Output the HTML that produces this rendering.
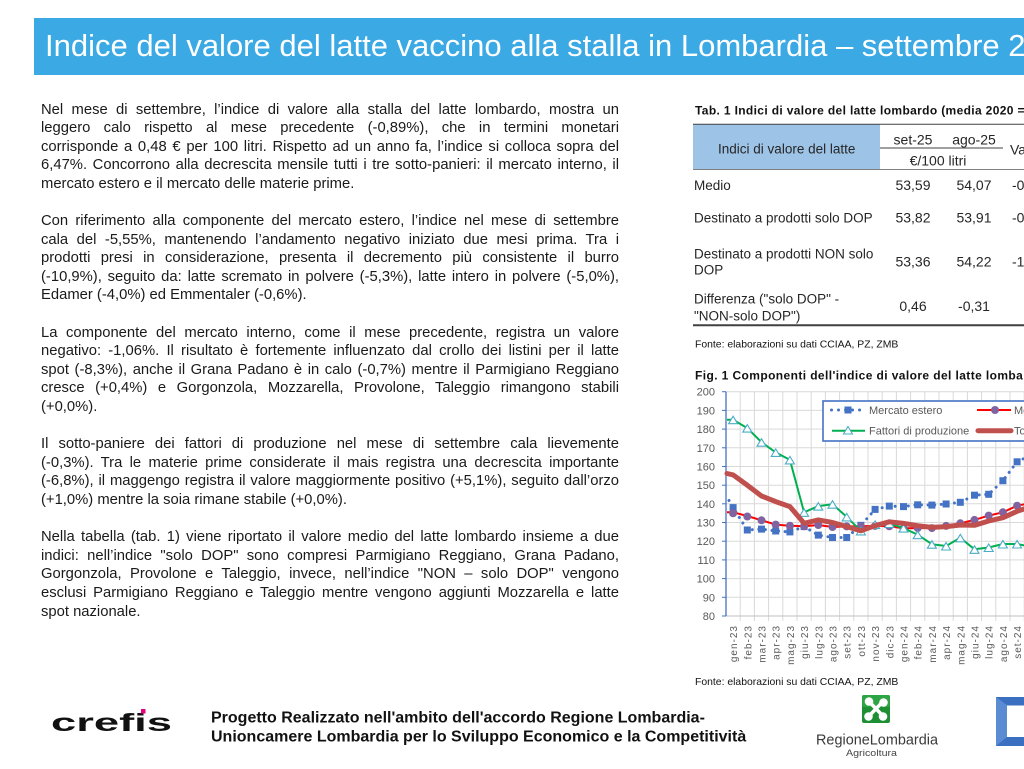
<!DOCTYPE html>
<html><head><meta charset="utf-8">
<style>
html,body{margin:0;padding:0;background:#fff;}
body{width:1024px;height:769px;overflow:hidden;position:relative;}
#txt{position:absolute;left:41px;top:100.5px;width:578px;font-family:"Liberation Sans",sans-serif;font-size:14.8px;line-height:18.6px;color:#1a1a1a;}
#txt div{height:18.6px;}
.j{text-align:justify;text-align-last:justify;}
.l{text-align:left;}
svg{position:absolute;left:0;top:0;}
</style></head>
<body>
<svg width="1024" height="769" viewBox="0 0 1024 769" xmlns="http://www.w3.org/2000/svg" font-family="Liberation Sans, sans-serif">
<!-- title bar -->
<rect x="34" y="18" width="990" height="57" fill="#3aa9e4"/>
<text x="45" y="56" font-size="31" fill="#ffffff">Indice del valore del latte vaccino alla stalla in Lombardia – settembre 2025</text>

<!-- TABLE -->
<text x="695" y="114.3" font-size="12" font-weight="bold" letter-spacing="0.35" fill="#111">Tab. 1 Indici di valore del latte lombardo (media 2020 = 100)</text>
<rect x="693" y="124.3" width="187" height="45" fill="#9dc3e6"/>
<line x1="693" y1="124.3" x2="1024" y2="124.3" stroke="#404040" stroke-width="1"/>
<line x1="693" y1="169.5" x2="1024" y2="169.5" stroke="#808080" stroke-width="1"/>
<line x1="880" y1="148" x2="1003" y2="148" stroke="#404040" stroke-width="1"/>
<line x1="693" y1="325.3" x2="1024" y2="325.3" stroke="#404040" stroke-width="2"/>
<g font-size="13.5" fill="#262626">
<text x="786.7" y="153.3" text-anchor="middle">Indici di valore del latte</text>
<text x="913" y="144.3" text-anchor="middle" font-size="14">set-25</text>
<text x="974" y="144.3" text-anchor="middle" font-size="14">ago-25</text>
<text x="938" y="165.7" text-anchor="middle" font-size="14">€/100 litri</text>
<text x="1010" y="154.3" font-size="14">Var. %</text>
<text x="694" y="190">Medio</text>
<text x="694" y="222.3">Destinato a prodotti solo DOP</text>
<text x="694" y="258.3">Destinato a prodotti NON solo</text>
<text x="694" y="274.3">DOP</text>
<text x="694" y="303.3">Differenza ("solo DOP" -</text>
<text x="694" y="320.5">"NON-solo DOP")</text>
</g>
<g font-size="14" fill="#262626" text-anchor="middle">
<text x="913" y="190">53,59</text><text x="974" y="190">54,07</text>
<text x="913" y="222.3">53,82</text><text x="974" y="222.3">53,91</text>
<text x="913" y="266.7">53,36</text><text x="974" y="266.7">54,22</text>
<text x="913" y="311">0,46</text><text x="974" y="311">-0,31</text>
</g>
<g font-size="14" fill="#262626">
<text x="1012" y="190">-0,89%</text>
<text x="1012" y="222.3">-0,17%</text>
<text x="1012" y="266.7">-1,59%</text>
</g>
<text x="695" y="347.7" font-size="10.4" fill="#111">Fonte: elaborazioni su dati CCIAA, PZ, ZMB</text>

<!-- CHART -->
<text x="695" y="379.3" font-size="12" font-weight="bold" letter-spacing="0.4" fill="#111">Fig. 1 Componenti dell'indice di valore del latte lombardo</text>
<g stroke="#d9d9d9" stroke-width="1">
<line x1="726" y1="391.7" x2="1024" y2="391.7"/>
<line x1="726" y1="410.4" x2="1024" y2="410.4"/>
<line x1="726" y1="429.1" x2="1024" y2="429.1"/>
<line x1="726" y1="447.8" x2="1024" y2="447.8"/>
<line x1="726" y1="466.5" x2="1024" y2="466.5"/>
<line x1="726" y1="485.2" x2="1024" y2="485.2"/>
<line x1="726" y1="503.8" x2="1024" y2="503.8"/>
<line x1="726" y1="522.5" x2="1024" y2="522.5"/>
<line x1="726" y1="541.2" x2="1024" y2="541.2"/>
<line x1="726" y1="559.9" x2="1024" y2="559.9"/>
<line x1="726" y1="578.6" x2="1024" y2="578.6"/>
<line x1="726" y1="597.3" x2="1024" y2="597.3"/>
<line x1="740.2" y1="391.7" x2="740.2" y2="621"/>
<line x1="754.4" y1="391.7" x2="754.4" y2="621"/>
<line x1="768.6" y1="391.7" x2="768.6" y2="621"/>
<line x1="782.8" y1="391.7" x2="782.8" y2="621"/>
<line x1="797" y1="391.7" x2="797" y2="621"/>
<line x1="811.2" y1="391.7" x2="811.2" y2="621"/>
<line x1="825.4" y1="391.7" x2="825.4" y2="621"/>
<line x1="839.6" y1="391.7" x2="839.6" y2="621"/>
<line x1="853.8" y1="391.7" x2="853.8" y2="621"/>
<line x1="868" y1="391.7" x2="868" y2="621"/>
<line x1="882.2" y1="391.7" x2="882.2" y2="621"/>
<line x1="896.4" y1="391.7" x2="896.4" y2="621"/>
<line x1="910.6" y1="391.7" x2="910.6" y2="621"/>
<line x1="924.8" y1="391.7" x2="924.8" y2="621"/>
<line x1="939" y1="391.7" x2="939" y2="621"/>
<line x1="953.2" y1="391.7" x2="953.2" y2="621"/>
<line x1="967.4" y1="391.7" x2="967.4" y2="621"/>
<line x1="981.6" y1="391.7" x2="981.6" y2="621"/>
<line x1="995.8" y1="391.7" x2="995.8" y2="621"/>
<line x1="1010" y1="391.7" x2="1010" y2="621"/>
<line x1="1024.2" y1="391.7" x2="1024.2" y2="621"/>
</g>
<line x1="726" y1="616" x2="1024" y2="616" stroke="#bfbfbf" stroke-width="1"/>
<line x1="726" y1="391.7" x2="726" y2="616" stroke="#4472c4" stroke-width="1.3"/>
<g stroke="#4472c4" stroke-width="1">
<line x1="722" y1="391.7" x2="726" y2="391.7"/><line x1="722" y1="410.4" x2="726" y2="410.4"/>
<line x1="722" y1="429.1" x2="726" y2="429.1"/><line x1="722" y1="447.8" x2="726" y2="447.8"/>
<line x1="722" y1="466.5" x2="726" y2="466.5"/><line x1="722" y1="485.2" x2="726" y2="485.2"/>
<line x1="722" y1="503.8" x2="726" y2="503.8"/><line x1="722" y1="522.5" x2="726" y2="522.5"/>
<line x1="722" y1="541.2" x2="726" y2="541.2"/><line x1="722" y1="559.9" x2="726" y2="559.9"/>
<line x1="722" y1="578.6" x2="726" y2="578.6"/><line x1="722" y1="597.3" x2="726" y2="597.3"/>
<line x1="722" y1="616" x2="726" y2="616"/>
</g>
<g font-size="11" fill="#595959" text-anchor="end">
<text x="715" y="395.7">200</text><text x="715" y="414.4">190</text><text x="715" y="433.1">180</text>
<text x="715" y="451.8">170</text><text x="715" y="470.5">160</text><text x="715" y="489.2">150</text>
<text x="715" y="507.8">140</text><text x="715" y="526.5">130</text><text x="715" y="545.2">120</text>
<text x="715" y="563.9">110</text><text x="715" y="582.6">100</text><text x="715" y="601.3">90</text>
<text x="715" y="620">80</text>
</g>
<g font-size="10" fill="#595959" text-anchor="end" letter-spacing="1">
<text transform="translate(737.1,625) rotate(-90)">gen-23</text>
<text transform="translate(751.3,625) rotate(-90)">feb-23</text>
<text transform="translate(765.5,625) rotate(-90)">mar-23</text>
<text transform="translate(779.7,625) rotate(-90)">apr-23</text>
<text transform="translate(793.9,625) rotate(-90)">mag-23</text>
<text transform="translate(808.1,625) rotate(-90)">giu-23</text>
<text transform="translate(822.3,625) rotate(-90)">lug-23</text>
<text transform="translate(836.5,625) rotate(-90)">ago-23</text>
<text transform="translate(850.7,625) rotate(-90)">set-23</text>
<text transform="translate(864.9,625) rotate(-90)">ott-23</text>
<text transform="translate(879.1,625) rotate(-90)">nov-23</text>
<text transform="translate(893.3,625) rotate(-90)">dic-23</text>
<text transform="translate(907.5,625) rotate(-90)">gen-24</text>
<text transform="translate(921.7,625) rotate(-90)">feb-24</text>
<text transform="translate(935.9,625) rotate(-90)">mar-24</text>
<text transform="translate(950.1,625) rotate(-90)">apr-24</text>
<text transform="translate(964.3,625) rotate(-90)">mag-24</text>
<text transform="translate(978.5,625) rotate(-90)">giu-24</text>
<text transform="translate(992.7,625) rotate(-90)">lug-24</text>
<text transform="translate(1006.9,625) rotate(-90)">ago-24</text>
<text transform="translate(1021.1,625) rotate(-90)">set-24</text>
</g>

<!-- legend -->
<rect x="823" y="401" width="215" height="40" fill="#fff" stroke="#4472c4" stroke-width="1.6"/>
<line x1="831.5" y1="410" x2="865" y2="410" stroke="#4472c4" stroke-width="3" stroke-dasharray="0.01 7" stroke-linecap="round"/>
<rect x="844.5" y="406.5" width="7" height="7" fill="#4472c4"/>
<text x="869" y="414" font-size="11" fill="#595959">Mercato estero</text>
<line x1="977" y1="410" x2="1011" y2="410" stroke="#ff0000" stroke-width="2"/>
<circle cx="995" cy="410" r="4" fill="#8064a2"/>
<text x="1014" y="414" font-size="11" fill="#595959">Mercato interno</text>
<line x1="832" y1="430.7" x2="865" y2="430.7" stroke="#00b050" stroke-width="2"/>
<polygon points="848,426.5 852.5,434 843.5,434" fill="#fff" stroke="#4bacc6" stroke-width="1.1"/>
<text x="869" y="434.7" font-size="11" fill="#595959">Fattori di produzione</text>
<line x1="978" y1="430.7" x2="1011" y2="430.7" stroke="#c0504d" stroke-width="5" stroke-linecap="round"/>
<text x="1014" y="434.7" font-size="11" fill="#595959">Totale</text>

<!-- series: Mercato estero -->
<polyline fill="none" stroke="#4472c4" stroke-width="3" stroke-dasharray="0.01 6.6" stroke-linecap="round" points="729,500.5 733.1,507.6 747.3,530 761.5,529.1 775.7,531 789.9,531.9 804.1,526.6 818.3,535.1 832.5,537.5 846.7,537.5 860.9,525.3 875.1,509.4 889.3,506.1 903.5,506.6 917.7,504.8 931.9,505.1 946.1,504 960.3,502.3 974.5,495.2 988.7,494.3 1002.9,480.7 1017.1,461.8 1031.3,455"/>
<g fill="#4472c4">
<rect x="729.6" y="504.1" width="7" height="7"/><rect x="743.8" y="526.5" width="7" height="7"/>
<rect x="758" y="525.6" width="7" height="7"/><rect x="772.2" y="527.5" width="7" height="7"/>
<rect x="786.4" y="528.4" width="7" height="7"/><rect x="800.6" y="523.1" width="7" height="7"/>
<rect x="814.8" y="531.6" width="7" height="7"/><rect x="829" y="534" width="7" height="7"/>
<rect x="843.2" y="534" width="7" height="7"/><rect x="857.4" y="521.8" width="7" height="7"/>
<rect x="871.6" y="505.9" width="7" height="7"/><rect x="885.8" y="502.6" width="7" height="7"/>
<rect x="900" y="503.1" width="7" height="7"/><rect x="914.2" y="501.3" width="7" height="7"/>
<rect x="928.4" y="501.6" width="7" height="7"/><rect x="942.6" y="500.5" width="7" height="7"/>
<rect x="956.8" y="498.8" width="7" height="7"/><rect x="971" y="491.7" width="7" height="7"/>
<rect x="985.2" y="490.8" width="7" height="7"/><rect x="999.4" y="477.2" width="7" height="7"/>
<rect x="1013.6" y="458.3" width="7" height="7"/>
</g>

<!-- series: Mercato interno -->
<polyline fill="none" stroke="#ff0000" stroke-width="2" stroke-linejoin="round" points="727,512.3 733.1,512.3 747.3,516 761.5,520.3 775.7,524.6 789.9,525.7 804.1,526.3 818.3,525 832.5,527 846.7,526.4 860.9,526.3 875.1,525.9 889.3,526.3 903.5,528.3 917.7,528.1 931.9,528.1 946.1,525.9 960.3,523.3 974.5,519.9 988.7,515.6 1002.9,512.3 1017.1,505.7 1031.3,502.9"/>
<g fill="#8064a2">
<circle cx="733.1" cy="513.3" r="4"/><circle cx="747.3" cy="516.5" r="4"/><circle cx="761.5" cy="520.3" r="4"/>
<circle cx="775.7" cy="524.6" r="4"/><circle cx="789.9" cy="525.7" r="4"/><circle cx="804.1" cy="526.3" r="4"/>
<circle cx="818.3" cy="525" r="4"/><circle cx="832.5" cy="527" r="4"/><circle cx="846.7" cy="526.4" r="4"/>
<circle cx="860.9" cy="526.3" r="4"/><circle cx="875.1" cy="525.9" r="4"/><circle cx="889.3" cy="526.3" r="4"/>
<circle cx="903.5" cy="528.3" r="4"/><circle cx="917.7" cy="528.1" r="4"/><circle cx="931.9" cy="528.1" r="4"/>
<circle cx="946.1" cy="525.9" r="4"/><circle cx="960.3" cy="523.3" r="4"/><circle cx="974.5" cy="519.9" r="4"/>
<circle cx="988.7" cy="515.6" r="4"/><circle cx="1002.9" cy="512.3" r="4"/><circle cx="1017.1" cy="505.7" r="4"/>
</g>

<!-- series: Fattori di produzione -->
<polyline fill="none" stroke="#00b050" stroke-width="2" stroke-linejoin="round" points="727,419.7 733.1,419.7 747.3,428.1 761.5,442.2 775.7,452.4 789.9,459.9 804.1,512.3 818.3,506.1 832.5,504.2 846.7,516.9 860.9,530.9 875.1,524.4 889.3,523.5 903.5,528.1 917.7,534.7 931.9,544.2 946.1,546 960.3,537.8 974.5,549.3 988.7,547.5 1002.9,544 1017.1,544 1031.3,546.8"/>
<g fill="#fff" stroke="#4bacc6" stroke-width="1.1">
<polygon points="733.1,416.2 737.6,423.7 728.6,423.7"/>
<polygon points="747.3,424.6 751.8,432.1 742.8,432.1"/>
<polygon points="761.5,438.7 766,446.2 757,446.2"/>
<polygon points="775.7,448.9 780.2,456.4 771.2,456.4"/>
<polygon points="789.9,456.4 794.4,463.9 785.4,463.9"/>
<polygon points="804.1,508.8 808.6,516.3 799.6,516.3"/>
<polygon points="818.3,502.6 822.8,510.1 813.8,510.1"/>
<polygon points="832.5,500.7 837,508.2 828,508.2"/>
<polygon points="846.7,513.4 851.2,520.9 842.2,520.9"/>
<polygon points="860.9,527.4 865.4,534.9 856.4,534.9"/>
<polygon points="875.1,520.9 879.6,528.4 870.6,528.4"/>
<polygon points="889.3,520 893.8,527.5 884.8,527.5"/>
<polygon points="903.5,524.6 908,532.1 899,532.1"/>
<polygon points="917.7,531.2 922.2,538.7 913.2,538.7"/>
<polygon points="931.9,540.7 936.4,548.2 927.4,548.2"/>
<polygon points="946.1,542.5 950.6,550 941.6,550"/>
<polygon points="960.3,534.3 964.8,541.8 955.8,541.8"/>
<polygon points="974.5,545.8 979,553.3 970,553.3"/>
<polygon points="988.7,544 993.2,551.5 984.2,551.5"/>
<polygon points="1002.9,540.5 1007.4,548 998.4,548"/>
<polygon points="1017.1,540.5 1021.6,548 1012.6,548"/>
</g>

<!-- series: Totale -->
<polyline fill="none" stroke="#c0504d" stroke-width="5" stroke-linejoin="round" stroke-linecap="round" points="727,473.5 733.1,474.9 747.3,485.2 761.5,496 775.7,501.6 789.9,506.6 804.1,523.3 818.3,519.9 832.5,522.5 846.7,526.6 860.9,530.8 875.1,525.7 889.3,521.8 903.5,523.3 917.7,525.7 931.9,527.4 946.1,526.6 960.3,525 974.5,525.3 988.7,521 1002.9,517.7 1017.1,511.3 1031.3,506.6"/>

<text x="695" y="685" font-size="10.4" fill="#111">Fonte: elaborazioni su dati CCIAA, PZ, ZMB</text>

<!-- FOOTER -->
<text x="51" y="731" font-size="25" font-weight="bold" fill="#111" textLength="121" lengthAdjust="spacingAndGlyphs">crefis</text>
<rect x="141" y="709" width="4.5" height="4.5" fill="#e6007e"/>
<text x="211" y="722.7" font-size="16" font-weight="bold" fill="#111">Progetto Realizzato nell'ambito dell'accordo Regione Lombardia-</text>
<text x="211" y="741.7" font-size="16" font-weight="bold" fill="#111">Unioncamere Lombardia per lo Sviluppo Economico e la Competitività</text>

<rect x="862" y="695" width="28" height="28" rx="2" fill="#1f8f34"/>
<rect x="862" y="695" width="28" height="12" rx="2" fill="#2ea444"/>
<g fill="#fff" stroke="#fff">
<line x1="869" y1="701.5" x2="883" y2="716" stroke-width="3.5"/>
<line x1="883" y1="701.5" x2="869" y2="716" stroke-width="3.5"/>
<circle cx="869" cy="701.5" r="3.8"/><circle cx="883.5" cy="702.5" r="3.8"/>
<circle cx="868.5" cy="716.5" r="3.8"/><circle cx="883" cy="716.5" r="3.8"/>
</g>
<text x="816" y="744.6" font-size="14.3" fill="#3a3a3a" textLength="122" lengthAdjust="spacingAndGlyphs">RegioneLombardia</text>
<text x="846" y="756" font-size="9" fill="#444" textLength="51" lengthAdjust="spacingAndGlyphs">Agricoltura</text>

<rect x="996" y="697" width="28" height="49" fill="#3b70c0"/>
<polygon points="996,697 1007,705 1007,737 996,746" fill="#5a8bd3"/>
<rect x="1007" y="705.5" width="17" height="31.5" fill="#ffffff"/>
</svg>

<div id="txt">
<div class="j">Nel mese di settembre, l’indice di valore alla stalla del latte lombardo, mostra un</div>
<div class="j">leggero calo rispetto al mese precedente (-0,89%), che in termini monetari</div>
<div class="j">corrisponde a 0,48 € per 100 litri. Rispetto ad un anno fa, l’indice si colloca sopra del</div>
<div class="j">6,47%. Concorrono alla decrescita mensile tutti i tre sotto-panieri: il mercato interno, il</div>
<div class="l">mercato estero e il mercato delle materie prime.</div>
<div></div>
<div class="j">Con riferimento alla componente del mercato estero, l’indice nel mese di settembre</div>
<div class="j">cala del -5,55%, mantenendo l’andamento negativo iniziato due mesi prima. Tra i</div>
<div class="j">prodotti presi in considerazione, presenta il decremento più consistente il burro</div>
<div class="j">(-10,9%), seguito da: latte scremato in polvere (-5,3%), latte intero in polvere (-5,0%),</div>
<div class="l">Edamer (-4,0%) ed Emmentaler (-0,6%).</div>
<div></div>
<div class="j">La componente del mercato interno, come il mese precedente, registra un valore</div>
<div class="j">negativo: -1,06%. Il risultato è fortemente influenzato dal crollo dei listini per il latte</div>
<div class="j">spot (-8,3%), anche il Grana Padano è in calo (-0,7%) mentre il Parmigiano Reggiano</div>
<div class="j">cresce (+0,4%) e Gorgonzola, Mozzarella, Provolone, Taleggio rimangono stabili</div>
<div class="l">(+0,0%).</div>
<div></div>
<div class="j">Il sotto-paniere dei fattori di produzione nel mese di settembre cala lievemente</div>
<div class="j">(-0,3%). Tra le materie prime considerate il mais registra una decrescita importante</div>
<div class="j">(-6,8%), il maggengo registra il valore maggiormente positivo (+5,1%), seguito dall’orzo</div>
<div class="l">(+1,0%) mentre la soia rimane stabile (+0,0%).</div>
<div></div>
<div class="j">Nella tabella (tab. 1) viene riportato il valore medio del latte lombardo insieme a due</div>
<div class="j">indici: nell’indice "solo DOP" sono compresi Parmigiano Reggiano, Grana Padano,</div>
<div class="j">Gorgonzola, Provolone e Taleggio, invece, nell’indice "NON – solo DOP" vengono</div>
<div class="j">esclusi Parmigiano Reggiano e Taleggio mentre vengono aggiunti Mozzarella e latte</div>
<div class="l">spot nazionale.</div>
</div>
</body></html>
